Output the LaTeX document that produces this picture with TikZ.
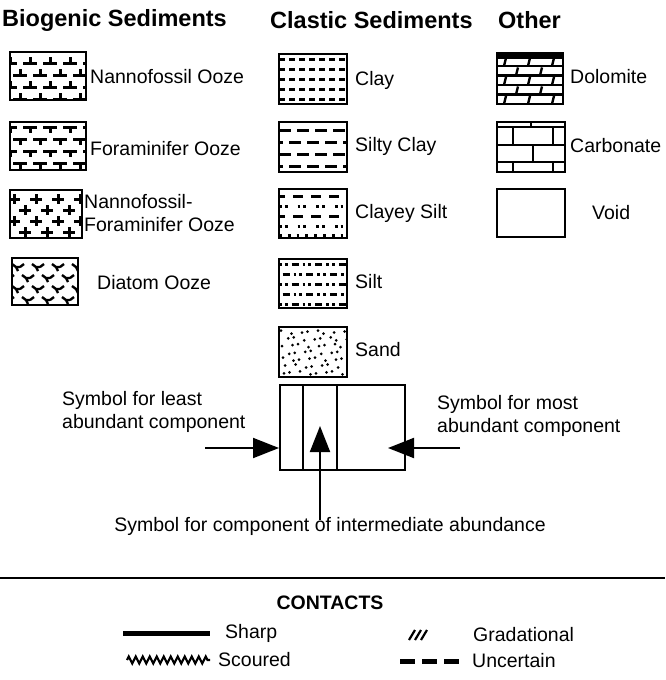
\documentclass[tikz,border=0pt]{standalone}
\usepackage{fontspec}
\setmainfont{Liberation Sans}
\usetikzlibrary{arrows.meta,decorations.pathmorphing}
\begin{document}
\begin{tikzpicture}[x=1pt,y=-1pt,
  lbl/.style={anchor=west,inner sep=0pt,font=\fontsize{19.5}{23}\selectfont},
  hdr/.style={anchor=west,inner sep=0pt,font=\fontsize{23.5}{26}\selectfont\bfseries},
  frame/.style={draw,line width=2.4pt},
  pat/.style={line width=3pt},
  arr/.style={line width=2pt,-{Triangle[length=26pt,width=20pt]}}]
\useasboundingbox (0,0) rectangle (665,680);
% headings
\node[hdr] (h1) at (2,20) {Biogenic Sediments};
\node[hdr] (h2) at (270,20) {Clastic Sediments};
\node[hdr] (h3) at (498,20) {Other};
% ---------- column 1 ----------
% Nannofossil ooze
\begin{scope}
\clip (10,52) rectangle (86,100);
\foreach \r in {0,...,3}{
  \pgfmathsetmacro\yy{63+\r*12}
  \pgfmathsetmacro\off{mod(\r,2)*10}
  \foreach \c in {-1,...,4}{
    \pgfmathsetmacro\xx{10+\off+\c*20}
    \draw[pat] (\xx-7,\yy) -- (\xx+7,\yy) (\xx,\yy) -- (\xx,\yy-6);
  }}
\end{scope}
\draw[frame] (10,52) rectangle (86,100);
\node[lbl] (t1) at (90,77) {Nannofossil Ooze};
% Foraminifer ooze
\begin{scope}
\clip (10,122) rectangle (86,170);
\foreach \r in {0,...,3}{
  \pgfmathsetmacro\yy{127+\r*12}
  \pgfmathsetmacro\off{mod(\r,2)*10}
  \foreach \c in {-1,...,4}{
    \pgfmathsetmacro\xx{10+\off+\c*20}
    \draw[pat] (\xx-7,\yy) -- (\xx+7,\yy) (\xx,\yy) -- (\xx,\yy+6);
  }}
\end{scope}
\draw[frame] (10,122) rectangle (86,170);
\node[lbl] (t2) at (90,149) {Foraminifer Ooze};
% Nannofossil-foraminifer ooze
\begin{scope}
\clip (10,190) rectangle (82,238);
\foreach \r in {0,...,3}{
  \pgfmathsetmacro\yy{199+\r*11}
  \pgfmathsetmacro\off{mod(\r,2)*11}
  \foreach \c in {-1,...,4}{
    \pgfmathsetmacro\xx{14+\off+\c*22}
    \draw[pat] (\xx-6,\yy) -- (\xx+6,\yy) (\xx,\yy-5) -- (\xx,\yy+5);
  }}
\end{scope}
\draw[frame] (10,190) rectangle (82,238);
\node[lbl,align=left] (t3) at (84,213) {Nannofossil-\\Foraminifer Ooze};
% Diatom ooze
\begin{scope}
\clip (12,258) rectangle (78,305);
\foreach \r in {0,...,3}{
  \pgfmathsetmacro\yy{267+\r*11}
  \pgfmathsetmacro\off{mod(\r,2)*10}
  \foreach \c in {-1,...,4}{
    \pgfmathsetmacro\xx{18+\off+\c*20}
    \draw[line width=2.4pt] (\xx-6,\yy-3) -- (\xx-2,\yy) -- (\xx,\yy+4) (\xx+2,\yy) -- (\xx+6,\yy-3)
      (\xx-2,\yy) -- (\xx+2,\yy);
  }}
\end{scope}
\draw[frame] (12,258) rectangle (78,305);
\node[lbl] (t4) at (97,283) {Diatom Ooze};
% ---------- column 2 ----------
% Clay
\begin{scope}
\clip (279,54) rectangle (347,104);
\foreach \r in {0,...,4}{
  \pgfmathsetmacro\yy{59+\r*10}
  \draw[pat,dash pattern=on 6pt off 4pt] (279,\yy) -- (347,\yy);
}
\end{scope}
\draw[frame] (279,54) rectangle (347,104);
\node[lbl] (c1) at (355,80) {Clay};
% Silty clay
\begin{scope}
\clip (279,122) rectangle (347,172);
\foreach \r in {0,...,3}{
  \pgfmathsetmacro\yy{130+\r*12}
  \pgfmathsetmacro\off{mod(\r,2)*8}
  \draw[pat,dash pattern=on 12pt off 6pt,dash phase=\off pt] (279,\yy) -- (347,\yy);
}
\end{scope}
\draw[frame] (279,122) rectangle (347,172);
\node[lbl] (c2) at (355,146) {Silty Clay};
% Clayey silt
\begin{scope}
\clip (279,189) rectangle (347,238);
\foreach \r in {0,2}{
  \pgfmathsetmacro\yy{196+\r*10}
  \draw[pat,dash pattern=on 10pt off 8pt,dash phase=4pt] (279,\yy) -- (347,\yy);
}
\foreach \r in {1,3}{
  \pgfmathsetmacro\yy{196+\r*10}
  \draw[pat,dash pattern=on 2.8pt off 3pt on 2.8pt off 10pt] (279,\yy) -- (347,\yy);
}
\draw[pat,dash pattern=on 2.8pt off 6pt] (279,235) -- (347,235);
\end{scope}
\draw[frame] (279,189) rectangle (347,238);
\node[lbl] (c3) at (355,213) {Clayey Silt};
% Silt
\begin{scope}
\clip (279,259) rectangle (347,308);
\foreach \r in {0,...,4}{
  \pgfmathsetmacro\yy{264+\r*10}
  \pgfmathsetmacro\ph{mod(\r,2)*9}
  \draw[pat,dash pattern=on 2.8pt off 3pt on 2.8pt off 4pt on 7pt off 4pt,dash phase=\ph pt] (279,\yy) -- (347,\yy);
}
\end{scope}
\draw[frame] (279,259) rectangle (347,308);
\node[lbl] (c4) at (355,282) {Silt};
% Sand
\begin{scope}
\clip (279,327) rectangle (347,377);
\foreach \r in {0,...,6}{
  \foreach \c in {0,...,7}{
    \pgfmathsetmacro\px{283+\c*8.5+mod(\r,2)*4.2+mod(\c*7+\r*3,5)-2}
    \pgfmathsetmacro\py{332+\r*6.8+mod(\c*3+\r*5,4)-1.5}
    \fill (\px,\py) circle (1.5pt);
  }}
\end{scope}
\draw[frame] (279,327) rectangle (347,377);
\node[lbl] (c5) at (355,350) {Sand};
% ---------- column 3 ----------
% Dolomite
\begin{scope}
\clip (497,53) rectangle (563,104);
\fill (497,53) rectangle (563,59);
\foreach \r in {0,...,4}{
  \pgfmathsetmacro\yy{66+\r*9.5}
  \draw[line width=2.4pt] (497,\yy) -- (563,\yy);
}
\foreach \r in {0,...,4}{
  \pgfmathsetmacro\yt{58+\r*9.5}
  \pgfmathsetmacro\off{mod(\r,2)*12}
  \foreach \c in {-1,...,3}{
    \pgfmathsetmacro\xx{505+\off+\c*24}
    \draw[line width=2.4pt] (\xx+1,\yt) -- (\xx-1,\yt+8);
  }}
\end{scope}
\draw[frame] (497,53) rectangle (563,104);
\node[lbl] (o1) at (570,77) {Dolomite};
% Carbonate
\begin{scope}
\clip (497,122) rectangle (565,172);
\draw[line width=2.2pt] (497,127) -- (565,127) (497,145) -- (565,145) (497,162) -- (565,162);
\draw[line width=2.2pt] (531,122) -- (531,127)
  (513,127) -- (513,145) (553,127) -- (553,145)
  (533,145) -- (533,162)
  (513,162) -- (513,172) (553,162) -- (553,172);
\end{scope}
\draw[frame] (497,122) rectangle (565,172);
\node[lbl] (o2) at (570,146) {Carbonate};
% Void
\draw[frame] (497,189) rectangle (565,237);
\node[lbl] (o3) at (592,213) {Void};
% ---------- composite symbol ----------
\node[draw,line width=2pt,minimum width=125pt,minimum height=85pt,inner sep=0pt] (cb) at (342.5,427.5) {};
\draw[line width=2pt] (303,385) -- (303,470) (337,385) -- (337,470);
\coordinate (la) at (205,448);
\coordinate (ra) at (460,448);
\coordinate (ma) at (320,520);
\coordinate (ma2) at (320,426);
\coordinate (ra2) at (388,448);
\draw[arr] (la) -- (cb.west |- la);
\draw[arr] (ra) -- (ra2);
\draw[arr] (ma) -- (ma2);
\node[lbl,align=left] (s1) at (62,412) {Symbol for least\\abundant component};
\node[lbl,align=left] (s2) at (437,416) {Symbol for most\\abundant component};
\node[lbl,anchor=center] (s3) at (330,526) {Symbol for component of intermediate abundance};
% ---------- contacts ----------
\coordinate (hl) at (0,578);
\coordinate (hr) at (665,578);
\draw[line width=2.4pt] (hl) -- (hr);
\node[inner sep=0pt,font=\fontsize{19.5}{22}\selectfont\bfseries] (ct) at (330,603) {CONTACTS};
\coordinate (sa) at (123,633); \coordinate (sb) at (210,633);
\draw[line width=5pt] (sa) -- (sb);
\node[lbl] (k1) at (225,633) {Sharp};
\coordinate (za) at (127,660); \coordinate (zb) at (210,660);
\draw[line width=2.2pt,decorate,decoration={zigzag,segment length=7pt,amplitude=3.5pt}] (za) -- (zb);
\node[lbl] (k2) at (218,660) {Scoured};
\draw[line width=2.2pt] (409,640) -- (415,630) (415,640) -- (421,630) (421,640) -- (427,630);
\node[lbl] (k3) at (473,635) {Gradational};
\coordinate (ua) at (400,661); \coordinate (ub) at (460,661);
\draw[line width=5pt,dash pattern=on 15pt off 7pt] (ua) -- (ub);
\node[lbl] (k4) at (472,661) {Uncertain};
\end{tikzpicture}
\end{document}
